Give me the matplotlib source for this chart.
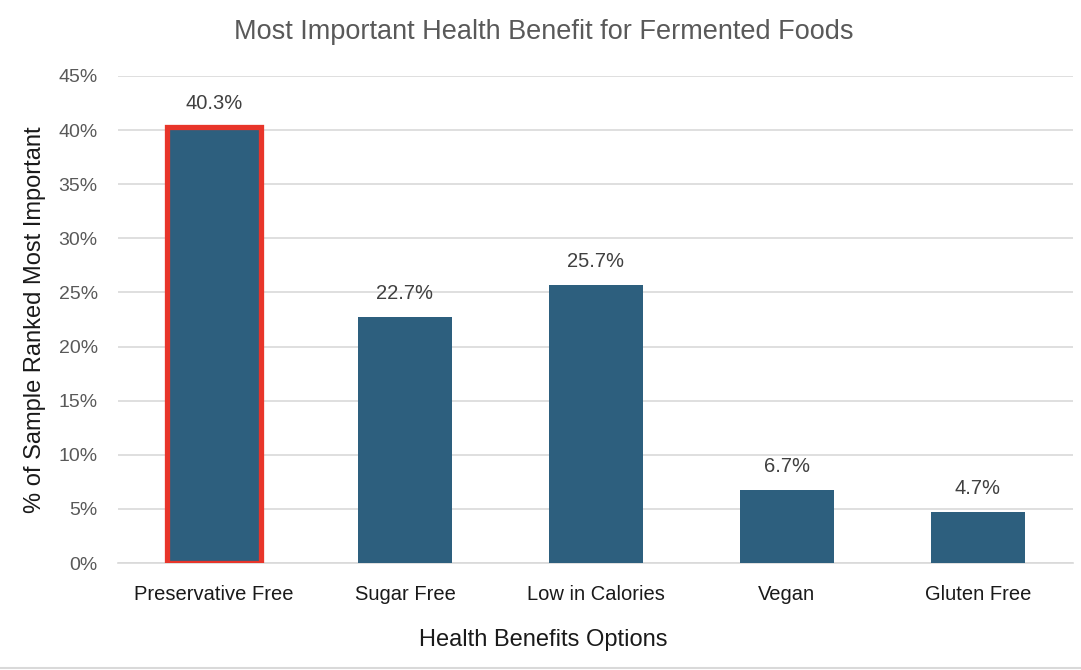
import matplotlib
matplotlib.use("Agg")
import matplotlib.pyplot as plt
from matplotlib.ticker import FuncFormatter, MultipleLocator

categories = ["Preservative Free", "Sugar Free", "Low in Calories", "Vegan", "Gluten Free"]
values = [40.3, 22.7, 25.7, 6.7, 4.7]
highlight = [True, False, False, False, False]

plt.rcParams['font.family'] = ['Liberation Sans', 'DejaVu Sans']

fig = plt.figure(figsize=(10.81, 6.70), dpi=100)
ax = fig.add_axes([0.1096, 0.1597, 0.8834, 0.7269])

bar_color = "#2D5F7E"
red = "#E8352A"
x = list(range(len(categories)))
bars = ax.bar(x, values, width=0.49, color=bar_color, zorder=3)
for b, h in zip(bars, highlight):
    if h:
        b.set_edgecolor(red)
        b.set_linewidth(3.8)

for xi, v in zip(x, values):
    ax.annotate(f"{v:.1f}%", (xi, v), xytext=(0, 17), textcoords="offset points",
                ha="center", va="center", fontsize=14.5, color="#404040")

ax.set_xlim(-0.5, len(categories) - 0.5)
ax.set_ylim(0, 45)
ax.yaxis.set_major_locator(MultipleLocator(5))
ax.yaxis.set_major_formatter(FuncFormatter(lambda v, p: f"{v:.0f}%"))
ax.grid(axis="y", color="#D9D9D9", linewidth=1.2, zorder=0)
for s in ["top", "right", "left"]:
    ax.spines[s].set_visible(False)
ax.spines["bottom"].set_color("#D9D9D9")
ax.spines["bottom"].set_linewidth(1.2)
ax.tick_params(axis="both", length=0)
ax.tick_params(axis="y", labelsize=14, labelcolor="#595959", pad=15)
ax.set_xticks(x)
ax.set_xticklabels(categories, fontsize=14.5, color="#1a1a1a")
ax.tick_params(axis="x", pad=16)

fig.text(35 / 1081, 1 - 320 / 670, "% of Sample Ranked Most Important", rotation=90,
         ha="center", va="center", fontsize=17, color="#1a1a1a")
fig.text(543 / 1081, 1 - 640 / 670, "Health Benefits Options",
         ha="center", va="center", fontsize=17, color="#1a1a1a")
fig.text(544 / 1081, 1 - 32 / 670, "Most Important Health Benefit for Fermented Foods",
         ha="center", va="center", fontsize=19.5, color="#595959")

fig.add_artist(plt.Line2D([0, 1], [0.003, 0.003], color="#D9D9D9", linewidth=1.5, transform=fig.transFigure))

fig.savefig("out.png", dpi=100)
